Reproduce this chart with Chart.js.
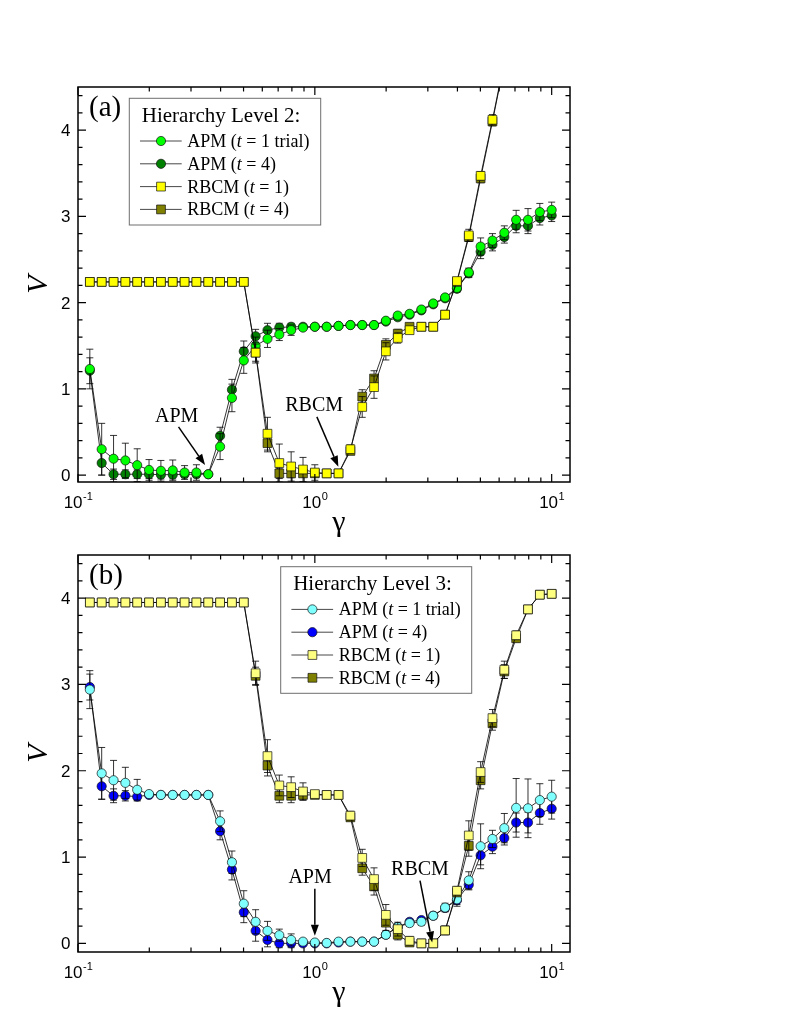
<!DOCTYPE html>
<html lang="en">
<head>
<meta charset="UTF-8">
<title>V vs gamma, hierarchy levels 2 and 3</title>
<script src="https://cdn.jsdelivr.net/npm/chart.js"></script>
<style>
    body { margin: 0; background: #fff; }
    .panel { position: absolute; left: 0; width: 789px; }
    #panelA { top: 0; height: 545px; }
    #panelB { top: 545px; height: 476px; }
</style>
</head>
<body>
<div class="panel" id="panelA"><canvas id="chartA" width="789" height="545"></canvas></div>
<div class="panel" id="panelB"><canvas id="chartB" width="789" height="476"></canvas></div>

<script>
// gamma values (20 per decade)
const gamma = [0.1122, 0.1259, 0.1413, 0.1585, 0.1778, 0.1995, 0.2239, 0.2512, 0.2818, 0.3162,
               0.3548, 0.3981, 0.4467, 0.5012, 0.5623, 0.6310, 0.7079, 0.7943, 0.8913, 1.000,
               1.122, 1.259, 1.413, 1.585, 1.778, 1.995, 2.239, 2.512, 2.818, 3.162,
               3.548, 3.981, 4.467, 5.012, 5.623, 6.310, 7.079, 7.943, 8.913, 10.00];

// panel (a): hierarchy level 2
const apmA1 = [1.23, 0.30, 0.19, 0.17, 0.115, 0.06, 0.05, 0.055, 0.03, 0.03,
               0.01, 0.33, 0.895, 1.33, 1.50, 1.58, 1.63, 1.68, 1.71, 1.72,
               1.72, 1.73, 1.74, 1.74, 1.74, 1.79, 1.85, 1.87, 1.92, 1.99,
               2.06, 2.17, 2.35, 2.65, 2.72, 2.81, 2.96, 2.96, 3.05, 3.075];
const apmA4 = [1.21, 0.14, 0.01, 0.01, 0.01, 0.01, 0.005, 0.005, 0.01, 0.01,
               0.01, 0.455, 0.99, 1.435, 1.61, 1.68, 1.71, 1.72, 1.72, 1.72,
               1.72, 1.73, 1.74, 1.74, 1.74, 1.78, 1.83, 1.86, 1.91, 1.98,
               2.05, 2.16, 2.34, 2.59, 2.67, 2.76, 2.89, 2.89, 2.98, 3.01];
const rbcmA1 = [2.24, 2.24, 2.24, 2.24, 2.24, 2.24, 2.24, 2.24, 2.24, 2.24,
                2.24, 2.24, 2.24, 2.24, 1.42, 0.48, 0.14, 0.10, 0.065, 0.03,
                0.02, 0.02, 0.30, 0.79, 1.02, 1.435, 1.59, 1.68, 1.72, 1.72,
                1.86, 2.25, 2.78, 3.47, 4.12, 4.80, null, null, null, null];
const rbcmA4 = [2.24, 2.24, 2.24, 2.24, 2.24, 2.24, 2.24, 2.24, 2.24, 2.24,
                2.24, 2.24, 2.24, 2.24, 1.42, 0.37, 0.02, 0.02, 0.02, 0.02,
                0.02, 0.02, 0.28, 0.91, 1.12, 1.51, 1.64, 1.72, 1.72, 1.72,
                1.86, 2.24, 2.76, 3.44, 4.10, 4.78, null, null, null, null];
const errApmA1 = [0.23, 0.30, 0.27, 0.20, 0.19, 0.12, 0.12, 0.12, 0.08, 0.09,
                  0.02, 0.15, 0.16, 0.15, 0.10, 0.10, 0.07, 0.06, 0.03, 0.03,
                  0.02, 0.02, 0.02, 0.02, 0.02, 0.02, 0.03, 0.03, 0.03, 0.03,
                  0.03, 0.04, 0.05, 0.10, 0.08, 0.08, 0.11, 0.13, 0.10, 0.09];
const errApmA4 = [0.15, 0.14, 0.06, 0.05, 0.05, 0.05, 0.05, 0.05, 0.04, 0.04,
                  0.02, 0.10, 0.12, 0.12, 0.08, 0.08, 0.05, 0.04, 0.03, 0.02,
                  0.02, 0.02, 0.02, 0.02, 0.02, 0.02, 0.03, 0.03, 0.03, 0.03,
                  0.03, 0.04, 0.05, 0.08, 0.07, 0.07, 0.08, 0.09, 0.08, 0.07];
const errRbcmA1 = [0, 0, 0, 0, 0, 0, 0, 0, 0, 0,
                   0, 0, 0, 0, 0.12, 0.19, 0.22, 0.17, 0.14, 0.09,
                   0.04, 0.02, 0.05, 0.12, 0.13, 0.10, 0.06, 0.04, 0.03, 0.03,
                   0.03, 0.03, 0.07, 0.05, 0.06, 0.06, 0, 0, 0, 0];
const errRbcmA4 = [0, 0, 0, 0, 0, 0, 0, 0, 0, 0,
                   0, 0, 0, 0, 0.10, 0.10, 0.06, 0.05, 0.04, 0.03,
                   0.02, 0.02, 0.04, 0.08, 0.09, 0.07, 0.05, 0.03, 0.03, 0.03,
                   0.03, 0.03, 0.05, 0.05, 0.05, 0.05, 0, 0, 0, 0];

// panel (b): hierarchy level 3
const apmB1 = [2.94, 1.97, 1.89, 1.86, 1.78, 1.73, 1.72, 1.72, 1.72, 1.72,
               1.72, 1.415, 0.94, 0.46, 0.25, 0.145, 0.095, 0.04, 0.02, 0.01,
               0.005, 0.02, 0.02, 0.02, 0.02, 0.10, 0.19, 0.235, 0.25, 0.32,
               0.415, 0.51, 0.73, 1.125, 1.21, 1.335, 1.57, 1.565, 1.66, 1.70];
const apmB4 = [2.97, 1.82, 1.71, 1.71, 1.70, 1.72, 1.72, 1.72, 1.72, 1.72,
               1.72, 1.30, 0.855, 0.36, 0.145, 0.04, 0.0, 0.0, 0.0, 0.0,
               0.0, 0.01, 0.02, 0.02, 0.02, 0.10, 0.19, 0.25, 0.27, 0.32,
               0.41, 0.50, 0.68, 1.02, 1.12, 1.22, 1.40, 1.40, 1.51, 1.56];
const rbcmB1 = [3.95, 3.95, 3.95, 3.95, 3.95, 3.95, 3.95, 3.95, 3.95, 3.95,
                3.95, 3.95, 3.95, 3.95, 3.13, 2.17, 1.83, 1.81, 1.76, 1.73,
                1.72, 1.72, 1.48, 0.99, 0.745, 0.33, 0.165, 0.03, 0.0, 0.0,
                0.15, 0.61, 1.25, 1.985, 2.61, 3.17, 3.57, 3.87, 4.04, 4.05];
const rbcmB4 = [3.95, 3.95, 3.95, 3.95, 3.95, 3.95, 3.95, 3.95, 3.95, 3.95,
                3.95, 3.95, 3.95, 3.95, 3.10, 2.06, 1.71, 1.71, 1.72, 1.72,
                1.72, 1.72, 1.46, 0.87, 0.66, 0.24, 0.10, 0.01, 0.0, 0.0,
                0.15, 0.59, 1.13, 1.89, 2.55, 3.15, 3.535, 3.87, 4.04, 4.05];
const errApmB1 = [0.22, 0.30, 0.23, 0.18, 0.12, 0.03, 0.02, 0.02, 0.02, 0.02,
                  0.02, 0.12, 0.13, 0.15, 0.14, 0.11, 0.07, 0.07, 0.03, 0.02,
                  0.02, 0.02, 0.02, 0.02, 0.02, 0.04, 0.04, 0.04, 0.04, 0.04,
                  0.05, 0.08, 0.10, 0.26, 0.10, 0.17, 0.34, 0.34, 0.19, 0.19];
const errApmB4 = [0.15, 0.15, 0.08, 0.06, 0.05, 0.03, 0.02, 0.02, 0.02, 0.02,
                  0.02, 0.10, 0.12, 0.12, 0.12, 0.08, 0.05, 0.05, 0.03, 0.02,
                  0.02, 0.02, 0.02, 0.02, 0.02, 0.03, 0.03, 0.03, 0.03, 0.03,
                  0.04, 0.05, 0.06, 0.11, 0.08, 0.08, 0.11, 0.12, 0.13, 0.12];
const errRbcmB1 = [0, 0, 0, 0, 0, 0, 0, 0, 0, 0,
                   0, 0, 0, 0, 0.14, 0.19, 0.12, 0.12, 0.10, 0.04,
                   0.03, 0.03, 0.05, 0.10, 0.13, 0.12, 0.08, 0.05, 0.03, 0.03,
                   0.05, 0.05, 0.17, 0.12, 0.10, 0.10, 0.05, 0.03, 0.03, 0.03];
const errRbcmB4 = [0, 0, 0, 0, 0, 0, 0, 0, 0, 0,
                   0, 0, 0, 0, 0.10, 0.12, 0.08, 0.08, 0.06, 0.03,
                   0.02, 0.02, 0.04, 0.08, 0.10, 0.09, 0.06, 0.04, 0.03, 0.03,
                   0.04, 0.04, 0.12, 0.10, 0.08, 0.08, 0.04, 0.03, 0.03, 0.03];

// ticks
const yMajor = [0, 1, 2, 3, 4];
const yMinor = [0.2, 0.4, 0.6, 0.8, 1.2, 1.4, 1.6, 1.8, 2.2, 2.4, 2.6, 2.8,
                3.2, 3.4, 3.6, 3.8, 4.2, 4.4];
const xMajor = [0.1, 1, 10];
const xMajorExp = ['-1', '0', '1'];
const xMinor = [0.2, 0.3, 0.4, 0.5, 0.6, 0.7, 0.8, 0.9, 2, 3, 4, 5, 6, 7, 8, 9];

const SERIF = '"Liberation Serif", "Times New Roman", serif';
const SANS = '"Liberation Sans", Arial, sans-serif';

function pts(vals) {
    return gamma.map((g, i) => ({ x: g, y: vals[i] }));
}

function series(label, vals, err, fill, style, order) {
    return {
        label: label,
        data: pts(vals),
        err: err,
        borderColor: '#000',
        borderWidth: 0.8,
        pointStyle: style,
        pointRadius: style === 'rect' ? 6.2 : 4.6,
        pointBackgroundColor: fill,
        pointBorderColor: '#111',
        pointBorderWidth: 0.7,
        tension: 0,
        order: order
    };
}

function drawMarker(ctx, style, fill, x, y) {
    ctx.save();
    ctx.fillStyle = fill;
    ctx.strokeStyle = '#111';
    ctx.lineWidth = 0.7;
    ctx.beginPath();
    if (style === 'rect') {
        ctx.rect(x - 4.4, y - 4.4, 8.8, 8.8);
    } else {
        ctx.arc(x, y, 4.6, 0, Math.PI * 2);
    }
    ctx.fill();
    ctx.stroke();
    ctx.restore();
}

function makePanel(cfg) {
    return {
        id: 'panel' + cfg.name,
        beforeDatasetDraw(chart, args) {
            const ds = chart.data.datasets[args.index];
            if (!ds.err) return;
            const ctx = chart.ctx, ys = chart.scales.y, a = chart.chartArea;
            ctx.save();
            ctx.beginPath();
            ctx.rect(a.left, a.top, a.right - a.left, a.bottom - a.top);
            ctx.clip();
            ctx.strokeStyle = '#000';
            ctx.lineWidth = 0.8;
            args.meta.data.forEach((pt, i) => {
                const raw = ds.data[i];
                const e = ds.err[i];
                if (!raw || raw.y == null || !e) return;
                const y1 = ys.getPixelForValue(raw.y + e);
                const y2 = ys.getPixelForValue(raw.y - e);
                ctx.beginPath();
                ctx.moveTo(pt.x, y1); ctx.lineTo(pt.x, y2);
                ctx.moveTo(pt.x - 3.5, y1); ctx.lineTo(pt.x + 3.5, y1);
                ctx.moveTo(pt.x - 3.5, y2); ctx.lineTo(pt.x + 3.5, y2);
                ctx.stroke();
            });
            ctx.restore();
        },
        afterDraw(chart) {
            const ctx = chart.ctx, a = chart.chartArea;
            const xs = chart.scales.x, ys = chart.scales.y;
            ctx.save();

            // frame
            ctx.strokeStyle = '#000';
            ctx.lineWidth = 1.5;
            ctx.strokeRect(a.left, a.top, a.right - a.left, a.bottom - a.top);

            // inward ticks on all sides
            ctx.lineWidth = 1.2;
            ctx.beginPath();
            const yTick = (v, len) => {
                const p = ys.getPixelForValue(v);
                ctx.moveTo(a.left, p); ctx.lineTo(a.left + len, p);
                ctx.moveTo(a.right, p); ctx.lineTo(a.right - len, p);
            };
            const xTick = (v, len) => {
                const p = xs.getPixelForValue(v);
                ctx.moveTo(p, a.bottom); ctx.lineTo(p, a.bottom - len);
                ctx.moveTo(p, a.top); ctx.lineTo(p, a.top + len);
            };
            yMajor.forEach(v => yTick(v, 8));
            yMinor.forEach(v => yTick(v, 4.5));
            xMajor.forEach(v => xTick(v, 8));
            xMinor.forEach(v => xTick(v, 4.5));
            ctx.stroke();

            // tick labels
            ctx.fillStyle = '#000';
            ctx.font = '17px ' + SANS;
            ctx.textAlign = 'right';
            ctx.textBaseline = 'alphabetic';
            yMajor.forEach(v => {
                ctx.fillText(String(v), a.left - 7.5, ys.getPixelForValue(v) + 6);
            });
            ctx.textAlign = 'left';
            xMajor.forEach((v, i) => {
                const p = xs.getPixelForValue(v);
                ctx.font = '17px ' + SANS;
                const w1 = ctx.measureText('10').width;
                ctx.font = '11px ' + SANS;
                const w2 = ctx.measureText(xMajorExp[i]).width;
                const x0 = p - (w1 + w2) / 2;
                const base = a.bottom + 25.5;
                ctx.font = '17px ' + SANS;
                ctx.fillText('10', x0, base);
                ctx.font = '11px ' + SANS;
                ctx.fillText(xMajorExp[i], x0 + w1 + 0.5, base - 8);
            });

            // axis titles
            ctx.font = 'italic 30px ' + SERIF;
            ctx.textAlign = 'center';
            ctx.save();
            ctx.translate(39, (a.top + a.bottom) / 2);
            ctx.rotate(-Math.PI / 2);
            ctx.textBaseline = 'middle';
            ctx.fillText('V', 0, 0);
            ctx.restore();
            ctx.font = '30px ' + SERIF;
            ctx.textBaseline = 'alphabetic';
            ctx.fillText('\u03b3', (a.left + a.right) / 2 + 15, a.bottom + 49);

            // panel label
            ctx.font = '29px ' + SERIF;
            ctx.textAlign = 'left';
            ctx.fillText(cfg.label, a.left + 11, a.top + 29);

            // annotations with arrows
            cfg.notes.forEach(n => {
                ctx.font = '20px ' + SERIF;
                ctx.textAlign = 'center';
                ctx.fillText(n.text, xs.getPixelForValue(n.tx), ys.getPixelForValue(n.ty) + 7);
                const x1 = xs.getPixelForValue(n.from[0]), y1 = ys.getPixelForValue(n.from[1]);
                const x2 = xs.getPixelForValue(n.to[0]), y2 = ys.getPixelForValue(n.to[1]);
                const ang = Math.atan2(y2 - y1, x2 - x1);
                const hl = 11, hw = 4;
                ctx.lineWidth = 1.5;
                ctx.beginPath();
                ctx.moveTo(x1, y1);
                ctx.lineTo(x2 - hl * Math.cos(ang), y2 - hl * Math.sin(ang));
                ctx.stroke();
                ctx.beginPath();
                ctx.moveTo(x2, y2);
                ctx.lineTo(x2 - hl * Math.cos(ang) + hw * Math.sin(ang), y2 - hl * Math.sin(ang) - hw * Math.cos(ang));
                ctx.lineTo(x2 - hl * Math.cos(ang) - hw * Math.sin(ang), y2 - hl * Math.sin(ang) + hw * Math.cos(ang));
                ctx.closePath();
                ctx.fill();
            });

            // legend box
            const b = cfg.box;
            ctx.fillStyle = '#fff';
            ctx.fillRect(b.x, b.y, b.w, b.h);
            ctx.strokeStyle = '#6e6e6e';
            ctx.lineWidth = 1;
            ctx.strokeRect(b.x, b.y, b.w, b.h);
            ctx.fillStyle = '#000';
            ctx.textAlign = 'left';
            ctx.font = '21px ' + SERIF;
            ctx.fillText(cfg.title, b.x + 12.5, b.y + 23.5);
            chart.data.datasets.forEach((ds, i) => {
                const cy = b.y + 42.7 + i * 22.8;
                ctx.strokeStyle = '#333';
                ctx.lineWidth = 0.9;
                ctx.beginPath();
                ctx.moveTo(b.x + 10.7, cy); ctx.lineTo(b.x + 52.4, cy);
                ctx.stroke();
                drawMarker(ctx, ds.pointStyle, ds.pointBackgroundColor, b.x + 31.7, cy);
                const k = ds.label.indexOf('(t');
                const pre = ds.label.slice(0, k + 1), post = ds.label.slice(k + 2);
                let tx = b.x + 58;
                ctx.fillStyle = '#000';
                ctx.font = '18px ' + SERIF;
                ctx.fillText(pre, tx, cy + 6);
                tx += ctx.measureText(pre).width;
                ctx.font = 'italic 18px ' + SERIF;
                ctx.fillText('t', tx, cy + 6);
                tx += ctx.measureText('t').width;
                ctx.font = '18px ' + SERIF;
                ctx.fillText(post, tx, cy + 6);
            });
            ctx.restore();
        }
    };
}

function buildChart(id, cfg, datasets) {
    return new Chart(document.getElementById(id), {
        type: 'line',
        data: { datasets: datasets },
        options: {
            responsive: false,
            animation: false,
            devicePixelRatio: 1,
            layout: { padding: { left: 0, right: 219, top: cfg.padTop, bottom: 0 } },
            plugins: { legend: { display: false }, tooltip: { enabled: false } },
            scales: {
                x: {
                    type: 'logarithmic', min: 0.1, max: 11.95,
                    ticks: { display: false }, grid: { display: false }, border: { display: false },
                    afterFit(s) { s.height = cfg.xHeight; }
                },
                y: {
                    min: cfg.yMin, max: 4.5,
                    ticks: { display: false }, grid: { display: false }, border: { display: false },
                    afterFit(s) { s.width = 78; }
                }
            }
        },
        plugins: [makePanel(cfg)]
    });
}

buildChart('chartA', {
    name: 'A', label: '(a)', title: 'Hierarchy Level 2:',
    padTop: 87, xHeight: 63, yMin: -0.08,
    box: { x: 129.3, y: 98.3, w: 191.4, h: 126.7 },
    notes: [
        { text: 'APM', tx: 0.261, ty: 0.70, from: [0.2657, 0.56], to: [0.344, 0.116] },
        { text: 'RBCM', tx: 0.993, ty: 0.82, from: [1.02, 0.675], to: [1.257, 0.096] }
    ]
}, [
    series('APM (t = 1 trial)', apmA1, errApmA1, '#00ff00', 'circle', 3),
    series('APM (t = 4)', apmA4, errApmA4, '#008000', 'circle', 4),
    series('RBCM (t = 1)', rbcmA1, errRbcmA1, '#ffff00', 'rect', 1),
    series('RBCM (t = 4)', rbcmA4, errRbcmA4, '#808000', 'rect', 2)
]);

buildChart('chartB', {
    name: 'B', label: '(b)', title: 'Hierarchy Level 3:',
    padTop: 10, xHeight: 69, yMin: -0.1,
    box: { x: 280.7, y: 21.7, w: 191, h: 126.6 },
    notes: [
        { text: 'APM', tx: 0.955, ty: 0.784, from: [1.0, 0.633], to: [1.0, 0.087] },
        { text: 'RBCM', tx: 2.78, ty: 0.877, from: [2.78, 0.726], to: [3.13, 0.01] }
    ]
}, [
    series('APM (t = 1 trial)', apmB1, errApmB1, '#80ffff', 'circle', 3),
    series('APM (t = 4)', apmB4, errApmB4, '#0000ff', 'circle', 4),
    series('RBCM (t = 1)', rbcmB1, errRbcmB1, '#ffff80', 'rect', 1),
    series('RBCM (t = 4)', rbcmB4, errRbcmB4, '#808000', 'rect', 2)
]);
</script>
</body>
</html>
